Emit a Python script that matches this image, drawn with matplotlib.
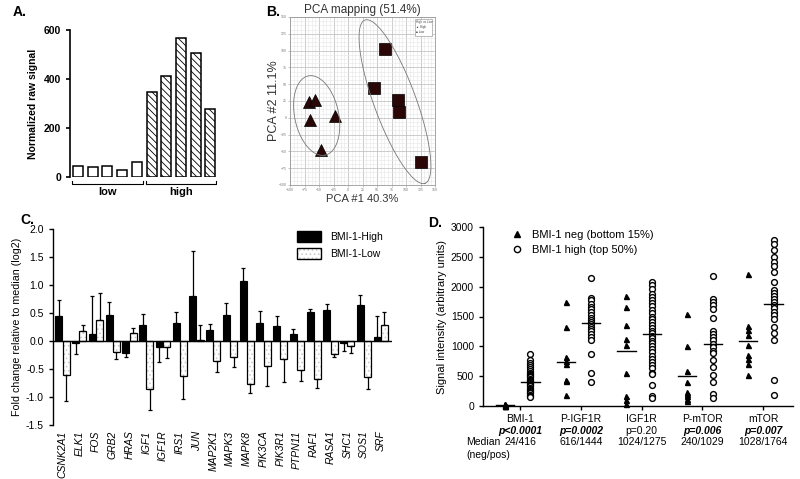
import matplotlib
matplotlib.use("Agg")
import matplotlib.pyplot as plt
import numpy as np
from matplotlib.patches import Patch, Rectangle
from matplotlib.legend_handler import HandlerTuple

plt.rcParams["font.family"] = ["Liberation Sans", "DejaVu Sans"]
plt.rcParams["hatch.linewidth"] = 0.6

# ---- panel A data
a_low = [44, 40, 46, 30, 63]
a_high = [345, 412, 566, 505, 277]
a_groups = ["low", "high"]

# ---- panel B data (PCA scores)
pca_high_x = [-68, -57, -66, -22, -47]
pca_high_y = [24, 27, -3, 2, -48]
pca_low_x = [64, 45, 86, 88, 126]
pca_low_y = [102, 45, 26, 9, -66]

# ---- panel C data
genes = ["CSNK2A1", "ELK1", "FOS", "GRB2", "HRAS", "IGF1", "IGF1R", "IRS1", "JUN",
         "MAP2K1", "MAPK3", "MAPK8", "PIK3CA", "PIK3R1", "PTPN11", "RAF1", "RASA1",
         "SHC1", "SOS1", "SRF"]
fc_high = [0.45, -0.03, 0.12, 0.46, -0.22, 0.29, -0.10, 0.33, 0.81, 0.20,
           0.47, 1.08, 0.33, 0.26, 0.12, 0.52, 0.55, -0.04, 0.65, 0.07]
err_high = [0.28, 0.20, 0.69, 0.23, 0.06, 0.20, 0.28, 0.18, 0.80, 0.10,
            0.21, 0.23, 0.21, 0.19, 0.10, 0.05, 0.11, 0.14, 0.18, 0.37]
fc_low = [-0.60, 0.17, 0.38, -0.20, 0.15, -0.86, -0.10, -0.63, 0.02, -0.35,
          -0.28, -0.77, -0.45, -0.33, -0.51, -0.68, -0.23, -0.09, -0.64, 0.28]
err_low = [0.48, 0.11, 0.47, 0.13, 0.08, 0.38, 0.20, 0.40, 0.27, 0.20,
           0.19, 0.16, 0.35, 0.41, 0.21, 0.16, 0.06, 0.12, 0.21, 0.23]

# ---- panel D data
markers_d = ["BMI-1", "P-IGF1R", "IGF1R", "P-mTOR", "mTOR"]
pvals = ["p<0.0001", "p=0.0002", "p=0.20", "p=0.006", "p=0.007"]
p_signif = [True, True, False, True, True]
medians_txt = ["24/416", "616/1444", "1024/1275", "240/1029", "1028/1764"]
neg_vals = [
    [2, 5, 8, 10, 12, 15, 18, 20, 24, 26, 30],
    [1750, 1330, 820, 760, 700, 440, 420, 180],
    [1850, 1660, 1350, 1120, 1030, 560, 160, 100, 40],
    [1540, 1000, 590, 400, 240, 200, 160, 110, 90],
    [2210, 1340, 1270, 1190, 1020, 860, 780, 710, 520],
]
pos_vals = [
    [870, 770, 720, 690, 650, 620, 590, 560, 540, 520, 500, 480, 460, 440, 420, 410,
     400, 390, 370, 350, 330, 310, 290, 270, 250, 230, 210, 190, 170, 150],
    [2150, 1810, 1770, 1710, 1660, 1620, 1580, 1530, 1480, 1440, 1400, 1370, 1330,
     1290, 1250, 1200, 1150, 1100, 870, 560, 410],
    [2080, 2030, 1960, 1870, 1820, 1770, 1720, 1670, 1610, 1560, 1500, 1450, 1400,
     1350, 1300, 1260, 1220, 1180, 1140, 1090, 1050, 1000, 950, 900, 840, 790, 730,
     690, 640, 560, 530, 350, 170, 130],
    [2180, 1790, 1750, 1700, 1630, 1480, 1260, 1210, 1160, 1100, 1040, 990, 930, 890,
     770, 660, 520, 400, 200, 140],
    [2780, 2720, 2610, 2500, 2420, 2340, 2240, 2080, 1940, 1900, 1850, 1800, 1740,
     1690, 1640, 1580, 1530, 1460, 1330, 1220, 1110, 440, 180],
]
line_neg = [20, 745, 930, 495, 1090]
line_pos = [400, 1390, 1215, 1040, 1710]


def px_rect(l, t, r, b):
    return [l / 800, 1 - b / 479, (r - l) / 800, (b - t) / 479]


fig = plt.figure(figsize=(8, 4.79), dpi=100)

# ================= A =================
ax = fig.add_axes(px_rect(70, 30, 217, 177))
xa = np.arange(10)
ax.bar(xa[:5], a_low, width=0.68, color="white", edgecolor="black", linewidth=1.1)
ax.bar(xa[5:], a_high, width=0.68, color="white", edgecolor="black", linewidth=1.1,
       hatch="\\\\\\\\\\")
ax.set_xlim(-0.55, 9.45)
ax.set_ylim(0, 600)
ax.set_yticks([0, 200, 400, 600])
ax.set_xticks([])
for s in ["top", "right", "bottom"]:
    ax.spines[s].set_visible(False)
ax.spines["left"].set_linewidth(1.2)
ax.tick_params(axis="y", labelsize=7.5, width=1.2, length=3)
for t in ax.get_yticklabels():
    t.set_fontweight("bold")
ax.set_ylabel("Normalized raw signal", fontsize=7.5, fontweight="bold", labelpad=4)
tr = ax.get_xaxis_transform()
for i, g in enumerate(a_groups):
    x0, x1 = 5 * i - 0.4, 5 * i + 4.4
    ax.plot([x0, x0, x1, x1], [-0.03, -0.045, -0.045, -0.03], color="black", lw=0.8,
            transform=tr, clip_on=False)
    ax.text(5 * i + 2, -0.1, g, transform=tr, ha="center", va="center",
            fontsize=8, fontweight="bold")
fig.text(13 / 800, 1 - 12 / 479, "A.", fontsize=10, fontweight="bold", va="center")

# ================= B =================
ax = fig.add_axes(px_rect(290, 17, 435, 185))
ax.set_xlim(-100, 150)
ax.set_ylim(-100, 150)
ax.set_xticks(np.arange(-100, 151, 25))
ax.set_yticks(np.arange(-100, 151, 25))
ax.set_xticks(np.arange(-100, 151, 6.25), minor=True)
ax.set_yticks(np.arange(-100, 151, 6.25), minor=True)
ax.grid(which="major", color="#c4c4c4", lw=0.6)
ax.grid(which="minor", color="#e6e6e6", lw=0.4)
ax.set_axisbelow(True)
ax.tick_params(which="major", labelsize=2.5, labelcolor="#777777", length=1.5,
               width=0.4, color="#999999", pad=1)
ax.tick_params(which="minor", length=0)
for s in ax.spines.values():
    s.set_color("#999999")
    s.set_linewidth(0.6)
ax.plot(pca_high_x, pca_high_y, "^", ms=8, color="#2a0606", mec="black", mew=0.5)
ax.plot(pca_low_x, pca_low_y, "s", ms=8.5, color="#2a0606", mec="black", mew=0.5)

# confidence ellipses, drawn in pixel space and mapped to data units
sx, sy = 250 / 145, 250 / 168
t = np.linspace(0, 2 * np.pi, 200)
for cx, cy, a, b, dx, dy in [(-54, 3.4, 40.5, 22, 16.7, 79),
                             (81, 24, 87, 21, 60, 163)]:
    n = np.hypot(dx, dy)
    ux, uy = dx / n, dy / n
    px = a * np.cos(t) * ux - b * np.sin(t) * uy
    py = a * np.cos(t) * uy + b * np.sin(t) * ux
    ax.plot(cx + px * sx, cy - py * sy, color="#777777", lw=0.6)

ax.add_patch(Rectangle((116, 121), 29, 26, facecolor="white", edgecolor="#888888",
                       lw=0.4, zorder=5))
ax.text(118, 143, "High vs Low", fontsize=2.2, va="center", color="#444444", zorder=6)
ax.text(118, 135, "\u25b2 High", fontsize=2.2, va="center", color="#444444", zorder=6)
ax.text(118, 127, "\u25a0 Low", fontsize=2.2, va="center", color="#444444", zorder=6)
ax.set_title("PCA mapping (51.4%)", fontsize=8.5, color="#333333", pad=3)
ax.set_xlabel("PCA #1 40.3%", fontsize=8, color="#333333", labelpad=1)
ax.set_ylabel("PCA #2 11.1%", fontsize=9, color="#333333", labelpad=-1)
fig.text(266 / 800, 1 - 12 / 479, "B.", fontsize=10, fontweight="bold", va="center")

# ================= C =================
ax = fig.add_axes(px_rect(53, 229, 392, 425))
xg = np.arange(len(genes))
w = 0.42
ax.bar(xg - 0.22, fc_high, width=w, color="black", edgecolor="black", lw=0.8,
       zorder=2)
ax.bar(xg + 0.22, fc_low, width=w, color="white", edgecolor="#c8c8c8", lw=0,
       hatch="....", zorder=2)
ax.bar(xg + 0.22, fc_low, width=w, color="none", edgecolor="black", lw=0.9, zorder=3)
for vals, errs, off in [(fc_high, err_high, -0.22), (fc_low, err_low, 0.22)]:
    v = np.array(vals)
    e = np.array(errs)
    up = np.where(v >= 0, e, 0)
    dn = np.where(v < 0, e, 0)
    ax.errorbar(xg + off, v, yerr=[dn, up], fmt="none", ecolor="black", elinewidth=0.9,
                capsize=1.5, capthick=0.9, zorder=4)
ax.axhline(0, color="black", lw=1.0, zorder=5)
ax.set_xlim(-0.57, 19.67)
ax.set_ylim(-1.5, 2.0)
ax.set_yticks(np.arange(-1.5, 2.01, 0.5))
ax.set_yticklabels(["%.1f" % v for v in np.arange(-1.5, 2.01, 0.5)])
ax.set_xticks(xg)
ax.set_xticklabels(genes, rotation=90, fontstyle="italic", fontsize=7.5)
ax.tick_params(axis="x", length=0, pad=4)
ax.tick_params(axis="y", labelsize=7.5, length=3, width=1)
ax.spines["top"].set_visible(False)
ax.spines["right"].set_visible(False)
ax.spines["bottom"].set_visible(False)
ax.spines["left"].set_linewidth(1)
ax.set_ylabel("Fold change relative to median (log2)", fontsize=7.7, labelpad=3)
h_high = Patch(facecolor="black", edgecolor="black")
h_low = (Patch(facecolor="white", edgecolor="#c8c8c8", hatch="....", lw=0),
         Patch(facecolor="none", edgecolor="black", lw=1))
ax.legend([h_high, h_low], ["BMI-1-High", "BMI-1-Low"], loc="upper right",
          bbox_to_anchor=(1.0, 1.04), frameon=False, fontsize=7.5, handlelength=2.3,
          handleheight=1.3, labelspacing=0.6, handletextpad=0.9,
          handler_map={tuple: HandlerTuple(ndivide=1, pad=0)})
fig.text(20 / 800, 1 - 220 / 479, "C.", fontsize=10, fontweight="bold", va="center")

# ================= D =================
ax = fig.add_axes(px_rect(483, 227, 793, 406))
for i in range(len(markers_d)):
    xn = i - 0.25
    xp = i + 0.17
    ax.plot([xn] * len(neg_vals[i]), neg_vals[i], "^", ms=3.6, color="black",
            clip_on=False, zorder=3)
    ax.plot([xp] * len(pos_vals[i]), pos_vals[i], "o", ms=4.2, mfc="white",
            mec="black", mew=1.0, clip_on=False, zorder=3)
    ax.plot([xn - 0.15, xn + 0.15], [line_neg[i]] * 2, color="black", lw=1.0, zorder=4)
    ax.plot([xp - 0.15, xp + 0.15], [line_pos[i]] * 2, color="black", lw=1.0, zorder=4)
ax.set_xlim(-0.61, 4.49)
ax.set_ylim(0, 3000)
ax.set_yticks(np.arange(0, 3001, 500))
ax.set_xticks(range(len(markers_d)))
ax.set_xticklabels([])
ax.tick_params(axis="y", labelsize=7.5, length=3, width=1)
ax.tick_params(axis="x", length=3, width=1)
ax.spines["top"].set_visible(False)
ax.spines["right"].set_visible(False)
ax.spines["left"].set_linewidth(1)
ax.spines["bottom"].set_linewidth(1)
ax.set_ylabel("Signal intensity (arbitrary units)", fontsize=8, labelpad=3)
tr = ax.get_xaxis_transform()
for i in range(len(markers_d)):
    ax.text(i, -0.07, markers_d[i], transform=tr, ha="center", va="center",
            fontsize=7.5)
    if p_signif[i]:
        ax.text(i, -0.14, pvals[i], transform=tr, ha="center", va="center",
                fontsize=7.5, fontweight="bold", fontstyle="italic")
    else:
        ax.text(i, -0.14, pvals[i], transform=tr, ha="center", va="center",
                fontsize=7.5)
    ax.text(i, -0.2, medians_txt[i], transform=tr, ha="center", va="center",
            fontsize=7.5)
ax.text(-0.88, -0.2, "Median", transform=tr, ha="left", va="center", fontsize=7.5)
ax.text(-0.88, -0.275, "(neg/pos)", transform=tr, ha="left", va="center",
        fontsize=7.5)
ax.plot([], [], "^", ms=4, color="black", label="BMI-1 neg (bottom 15%)")
ax.plot([], [], "o", ms=4.5, mfc="white", mec="black", mew=1.0,
        label="BMI-1 high (top 50%)")
ax.legend(loc="upper left", bbox_to_anchor=(0.06, 1.04), frameon=False, fontsize=8,
          handlelength=1.0, handletextpad=0.8, labelspacing=0.45)
fig.text(428 / 800, 1 - 223 / 479, "D.", fontsize=10, fontweight="bold", va="center")

fig.savefig("out.png", dpi=100)
